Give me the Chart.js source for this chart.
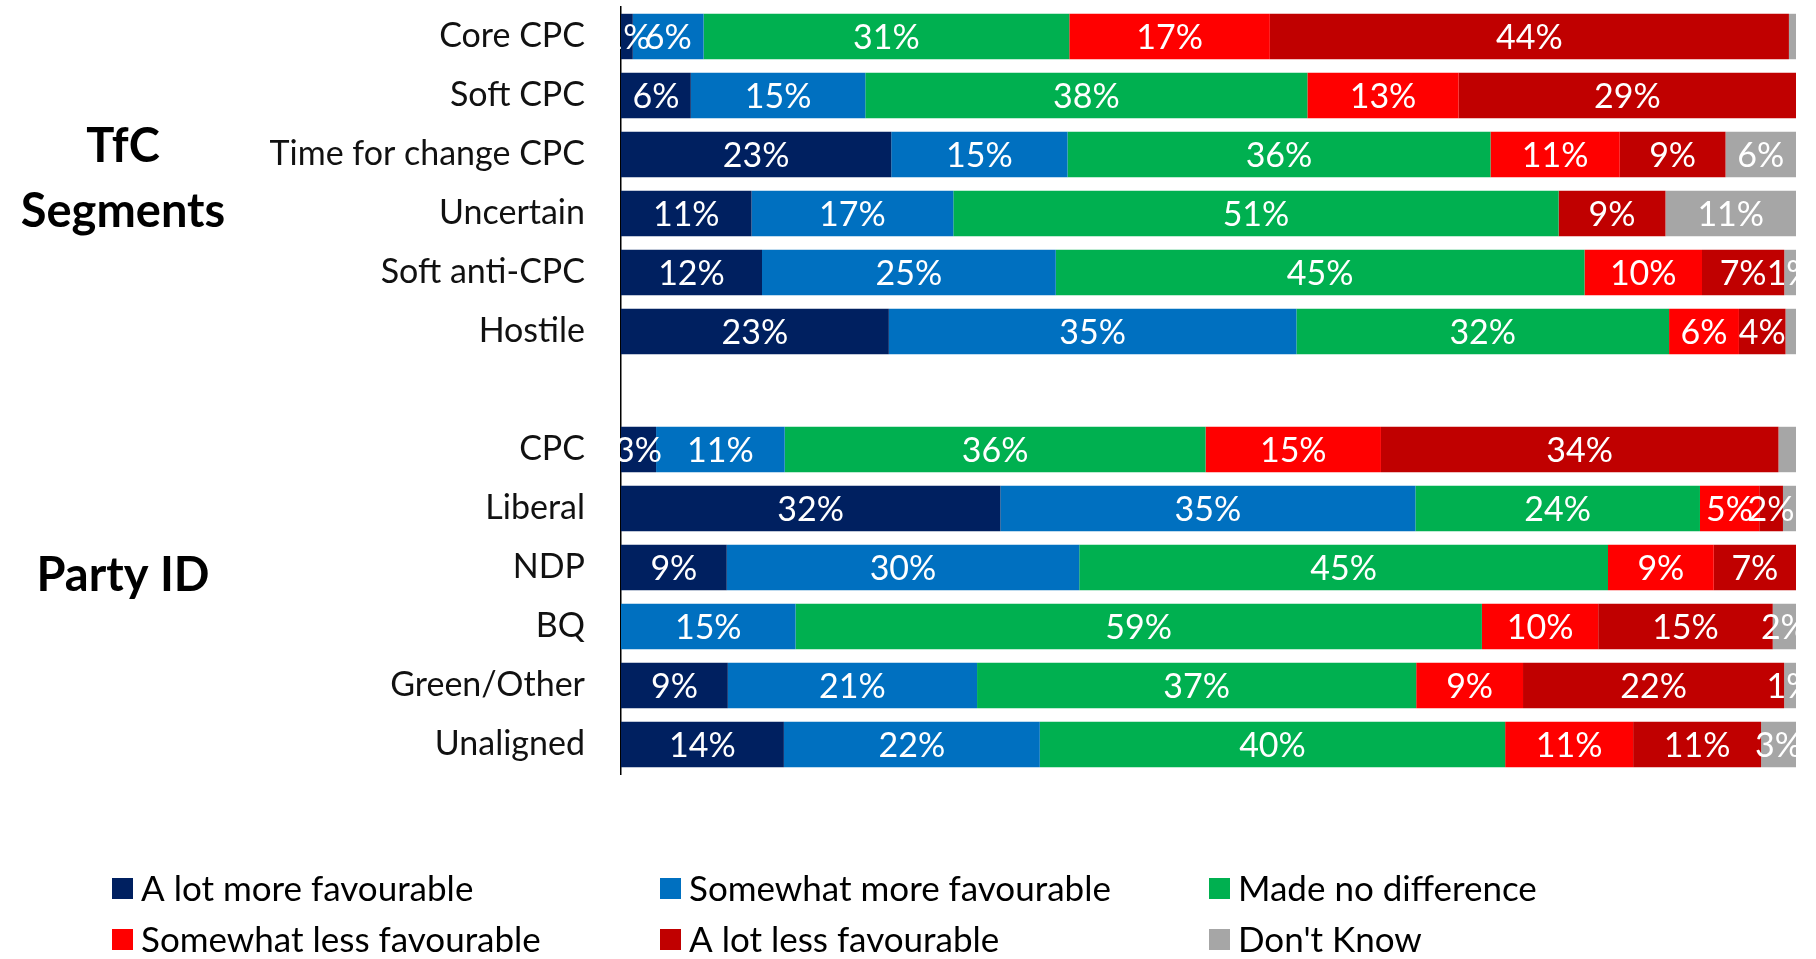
<!DOCTYPE html>
<html lang="en">
<head>
<meta charset="UTF-8">
<title>TfC Segments / Party ID</title>
<script src="https://cdn.jsdelivr.net/npm/chart.js"></script>
<style>
    html, body { margin: 0; padding: 0; background: #fff; }
    #wrap { width: 1816px; height: 959px; }
</style>
</head>
<body>
<div id="wrap"><canvas id="chart" width="1816" height="959"></canvas></div>
<script>
    // categories (the empty one is the gap between the two groups)
    const categories = ['Core CPC', 'Soft CPC', 'Time for change CPC', 'Uncertain', 'Soft anti-CPC', 'Hostile', '',
                        'CPC', 'Liberal', 'NDP', 'BQ', 'Green/Other', 'Unaligned'];
    const seriesNames = ['A lot more favourable', 'Somewhat more favourable', 'Made no difference',
                         'Somewhat less favourable', 'A lot less favourable', "Don't Know"];

    // values in %
    const aLotMore  = [1, 6, 23, 11, 12, 23, null, 3, 32, 9, 0, 9, 14];
    const someMore  = [6, 15, 15, 17, 25, 35, null, 11, 35, 30, 15, 21, 22];
    const noDiff    = [31, 38, 36, 51, 45, 32, null, 36, 24, 45, 59, 37, 40];
    const someLess  = [17, 13, 11, 0, 10, 6, null, 15, 5, 9, 10, 9, 11];
    const aLotLess  = [44, 29, 9, 9, 7, 4, null, 34, 2, 7, 15, 22, 11];
    const dontKnow  = [0.6, 0, 6, 11, 1, 0.9, null, 1.5, 1.1, 0, 2, 1, 3];

    // rows where the "Don't Know" label is not shown in the original
    const unlabeledDontKnow = ['Core CPC', 'Hostile', 'CPC', 'Liberal'];

    const groupTitles = [['TfC', 'Segments'], ['Party ID']];

    const series = [aLotMore, someMore, noDiff, someLess, aLotLess, dontKnow];
    const colors = ['#002060', '#0070C0', '#00B050', '#FF0000', '#C00000', '#A6A6A6'];
    const FONT = 'Lato, "Open Sans", sans-serif';

    // 100% stacked: each row scaled to its own total
    const totals = categories.map((c, i) => series.reduce((s, arr) => s + (arr[i] || 0), 0));

    const datasets = series.map((arr, k) => ({
        label: seriesNames[k],
        raw: arr,
        data: arr.map((v, i) => v == null ? null : v / totals[i] * 100),
        backgroundColor: colors[k],
        borderWidth: 0,
        barPercentage: 0.77,
        categoryPercentage: 1
    }));

    // value labels inside the segments
    const valueLabels = {
        id: 'valueLabels',
        afterDatasetsDraw(chart) {
            const ctx = chart.ctx;
            ctx.save();
            ctx.font = '34px ' + FONT;
            ctx.fillStyle = '#fff';
            ctx.textAlign = 'center';
            ctx.textBaseline = 'middle';
            chart.data.datasets.forEach((ds, k) => {
                chart.getDatasetMeta(k).data.forEach((bar, i) => {
                    const v = ds.raw[i];
                    if (!v) return;
                    if (k === 5 && unlabeledDontKnow.includes(categories[i])) return;
                    ctx.fillText(Math.round(v) + '%', (bar.x + bar.base) / 2, bar.y + 2);
                });
            });
            ctx.restore();
        }
    };

    // group titles on the left
    const groupLabels = {
        id: 'groupLabels',
        afterDraw(chart) {
            const ctx = chart.ctx;
            const y = chart.scales.y;
            ctx.save();
            ctx.font = 'bold 47px ' + FONT;
            ctx.fillStyle = '#000';
            ctx.textAlign = 'center';
            ctx.textBaseline = 'middle';
            const c1 = y.getPixelForValue(2.5) - 5;
            ctx.fillText(groupTitles[0][0], 123, c1 - 32);
            ctx.fillText(groupTitles[0][1], 123, c1 + 33);
            ctx.fillText(groupTitles[1][0], 123, y.getPixelForValue(9) + 8);
            ctx.restore();
        }
    };

    // legend in 3 columns x 2 rows
    const gridLegend = {
        id: 'gridLegend',
        afterDraw(chart) {
            const ctx = chart.ctx;
            const colX = [112, 660, 1209];
            const rowY = [888, 939];
            ctx.save();
            ctx.font = '35px ' + FONT;
            ctx.textBaseline = 'middle';
            chart.data.datasets.forEach((ds, k) => {
                const x = colX[k % 3], y = rowY[Math.floor(k / 3)];
                ctx.fillStyle = ds.backgroundColor;
                ctx.fillRect(x, y - 10, 21, 21);
                ctx.fillStyle = '#000';
                ctx.fillText(ds.label, x + 29, y + 2);
            });
            ctx.restore();
        }
    };

    const ctx = document.getElementById('chart').getContext('2d');
    new Chart(ctx, {
        type: 'bar',
        data: { labels: categories, datasets: datasets },
        options: {
            indexAxis: 'y',
            responsive: false,
            animation: false,
            layout: { padding: { left: 0, right: 20, top: 7, bottom: 185 } },
            plugins: {
                legend: { display: false },
                tooltip: { enabled: false }
            },
            scales: {
                x: { stacked: true, min: 0, max: 100, display: false },
                y: {
                    stacked: true,
                    grid: { display: false, drawTicks: false },
                    border: { display: true, color: '#000', width: 1.5 },
                    ticks: { color: '#111', font: { family: FONT, size: 34 }, padding: 36 },
                    afterFit(scale) {
                        scale.width = 621;
                        scale.paddingTop = 0;
                        scale.paddingBottom = 0;
                    }
                }
            }
        },
        plugins: [valueLabels, groupLabels, gridLegend]
    });
</script>
</body>
</html>
